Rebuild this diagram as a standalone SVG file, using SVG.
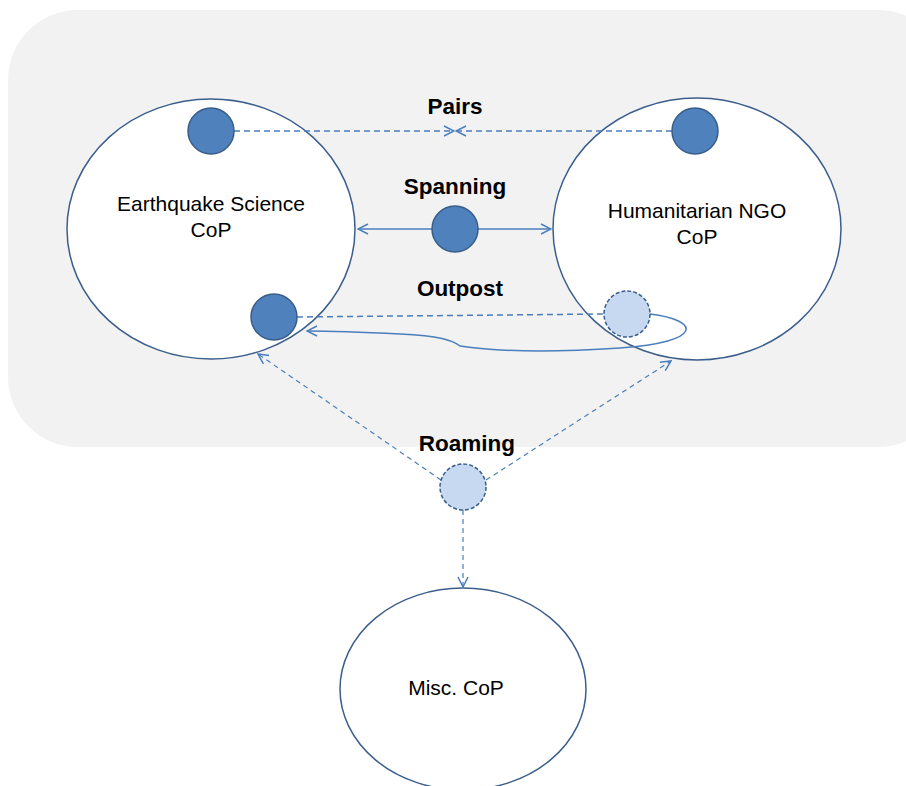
<svg xmlns="http://www.w3.org/2000/svg" width="906" height="786" viewBox="0 0 906 786">
<style>
.cop{fill:#fff;stroke:#3b5e8c;stroke-width:1.5}
.dot{fill:#4f81bd;stroke:#385d8a;stroke-width:1.5}
.ghost{fill:#c6d9f1;stroke:#385d8a;stroke-width:1.5;stroke-dasharray:4 2}
.lbl{font-family:"Liberation Sans",Arial,sans-serif;font-size:21px;fill:#000;text-anchor:middle}
.b{font-weight:bold;font-size:22.5px}
.c{fill:none;stroke:#4a7ebb;stroke-width:1.5}
.d{stroke-dasharray:6 4}
.d2{stroke-dasharray:5 4;stroke-width:1.2}
</style>
<defs>
<marker id="open" viewBox="0 0 12 12" refX="11" refY="6" markerWidth="12" markerHeight="12" markerUnits="userSpaceOnUse" orient="auto">
<path d="M1,1 L11,6 L1,11" fill="none" stroke="#4a7ebb" stroke-width="1.5"/>
</marker>
</defs>
<rect x="8" y="10" width="940" height="437" rx="70" ry="70" fill="#f2f2f2"/>
<g id="earthquake">
<ellipse class="cop" cx="211" cy="229" rx="144" ry="130"/>
<text class="lbl" x="211" y="211">Earthquake Science</text>
<text class="lbl" x="211" y="237">CoP</text>
</g>
<g id="ngo">
<ellipse class="cop" cx="697" cy="229" rx="144" ry="131"/>
<text class="lbl" x="697" y="218">Humanitarian NGO</text>
<text class="lbl" x="697" y="244">CoP</text>
</g>
<g id="misc">
<ellipse class="cop" cx="463" cy="689" rx="123" ry="101"/>
<text class="lbl" x="456" y="695">Misc. CoP</text>
</g>
<g id="connectors">
<line class="c d" x1="234" y1="131" x2="454" y2="131" marker-end="url(#open)"/>
<line class="c d" x1="672" y1="131" x2="456" y2="131" marker-end="url(#open)"/>
<line class="c" x1="432" y1="229" x2="358" y2="229" marker-end="url(#open)"/>
<line class="c" x1="478" y1="229" x2="551" y2="229" marker-end="url(#open)"/>
<line class="c d" x1="297" y1="317" x2="604" y2="314"/>
<path class="c" d="M650,314 C700,320 705,342 620,348 C560,352 500,352 460,346 C452,340 440,336 400,334 C360,332 330,331 307,331" marker-end="url(#open)"/>
<line class="c d2" x1="441" y1="480" x2="258" y2="354" marker-end="url(#open)"/>
<line class="c d2" x1="486" y1="480" x2="671" y2="361" marker-end="url(#open)"/>
<line class="c d2" x1="463" y1="510" x2="463" y2="587" marker-end="url(#open)"/>
</g>
<g id="pairs">
<circle class="dot" cx="211" cy="131" r="23"/>
<circle class="dot" cx="695" cy="131" r="23"/>
<text class="lbl b" x="455" y="114">Pairs</text>
</g>
<g id="spanning">
<circle class="dot" cx="455" cy="229" r="23"/>
<text class="lbl b" x="455" y="194">Spanning</text>
</g>
<g id="outpost">
<circle class="dot" cx="274" cy="317" r="23"/>
<circle class="ghost" cx="627" cy="314" r="23"/>
<text class="lbl b" x="460" y="296">Outpost</text>
</g>
<g id="roaming">
<circle class="ghost" cx="463" cy="487" r="23"/>
<text class="lbl b" x="467" y="451">Roaming</text>
</g>
</svg>
